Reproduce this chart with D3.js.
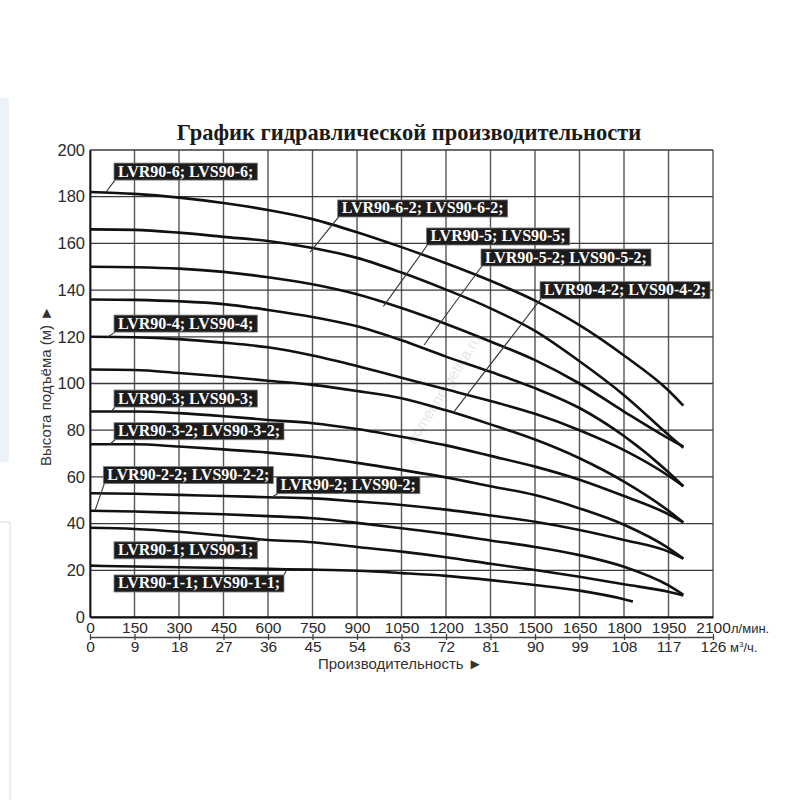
<!DOCTYPE html>
<html>
<head>
<meta charset="utf-8">
<script src="https://cdn.jsdelivr.net/npm/d3@7"></script>
<style>
  body { margin: 0; background: #fff; }
  svg { display: block; }
</style>
</head>
<body>
<div class="pump-chart"></div>
<script>
// Pump head curves

var flow = [0, 150, 300, 450, 600, 750, 900, 1050, 1200, 1350, 1500, 1650, 1800, 1950, 2000];
var flow_short = [0, 150, 300, 450, 600, 750, 900, 1050, 1200, 1350, 1500, 1650, 1800, 1830];

var head_6   = [182, 181.2, 179.6, 177.3, 174.3, 170.4, 164.8, 158.4, 151.5, 144, 135.5, 125, 112, 97, 90.5];
var head_6_2 = [166, 165.8, 164.6, 162.8, 161, 158, 153.8, 147.5, 140.2, 132.2, 122.5, 109.5, 95, 78, 72.5];
var head_5   = [150, 149.8, 149.2, 147.8, 145.5, 142.5, 138.2, 132.3, 125.5, 118, 110, 100, 88, 76.5, 73];
var head_5_2 = [136, 135.8, 135.2, 134, 131.5, 128.5, 124.5, 118.5, 111.5, 105, 98, 89.5, 77.5, 62, 56];
var head_4   = [120, 119.8, 119, 117.5, 115.5, 112, 107.5, 102.5, 97.5, 92.5, 87, 80, 71.5, 60.5, 56];
var head_4_2 = [106, 105.8, 104.5, 103, 101.2, 99.4, 96.8, 93.7, 88.5, 82.5, 76, 68, 58, 45.5, 40.5];
var head_3   = [88, 88, 87.3, 86, 84.4, 83, 80.5, 77.2, 73.5, 69, 64.4, 58.8, 51.8, 44, 40.5];
var head_3_2 = [74, 74, 73, 71.8, 70.4, 68.6, 66, 63, 59.8, 56, 52.2, 46.5, 39.5, 29.5, 25];
var head_2   = [53, 52.8, 52.3, 51.8, 51.3, 50.8, 49.5, 48, 46, 43.5, 40.8, 37.3, 33, 28, 25];
var head_2_2 = [45.5, 45.2, 44.6, 44, 43.2, 42.3, 40.3, 38, 35.6, 32.8, 30, 26.5, 21.5, 13.5, 9.5];
var head_1   = [38.2, 37.7, 36.5, 34.8, 33, 32, 30, 28, 25.6, 22.8, 20.1, 17.2, 14, 10.8, 9.2];
var head_1_1 = [22, 21.6, 21.3, 21, 20.6, 20.3, 19.8, 18.8, 17.6, 15.8, 13.7, 11.3, 7.6, 6.6];

var label_texts = [
  'LVR90-6; LVS90-6;',
  'LVR90-6-2; LVS90-6-2;',
  'LVR90-5; LVS90-5;',
  'LVR90-5-2; LVS90-5-2;',
  'LVR90-4-2; LVS90-4-2;',
  'LVR90-4; LVS90-4;',
  'LVR90-3; LVS90-3;',
  'LVR90-3-2; LVS90-3-2;',
  'LVR90-2-2; LVS90-2-2;',
  'LVR90-2; LVS90-2;',
  'LVR90-1; LVS90-1;',
  'LVR90-1-1; LVS90-1-1;'
];

var flow_ticks = d3.range(0, 2101, 150);     // л/мин.
var m3_ticks = d3.range(0, 127, 9);          // м³/ч.
var head_ticks = d3.range(0, 201, 20);

var title = 'График гидравлической производительности';
var y_title = 'Высота подъёма (м) ►';
var x_title = 'Производительность ►';

// label placement, in chart units: box corner, where the leader starts, where it points
var label_pos = [
  {box: [81, 194.4],   from: 'bl', to: [54, 182]},
  {box: [835, 178.6],  from: 'bl', to: [742, 156.3]},
  {box: [1134, 166.6], from: 'bl', to: [989, 133]},
  {box: [1318, 157.6], from: 'bl', to: [1126, 116.5]},
  {box: [1517, 143.6], from: 'bl', to: [1224, 87.4]},
  {box: [81, 129.3],   from: 'bl', to: [61, 120]},
  {box: [81, 97.2],    from: 'bl', to: [71, 88]},
  {box: [81, 83.2],    from: 'bl', to: [67, 74]},
  {box: [45, 64.4],    from: 'bl', to: [17, 45.6]},
  {box: [629, 60.1],   from: 'bl', to: [613, 51.3]},
  {box: [81, 32.2],    from: 'tr', to: [580, 33.5]},
  {box: [81, 18],      from: 'tr', to: [664, 20.3]}
];

var curves = [
  {flow: flow, head: head_6},
  {flow: flow, head: head_6_2},
  {flow: flow, head: head_5},
  {flow: flow, head: head_5_2},
  {flow: flow, head: head_4},
  {flow: flow, head: head_4_2},
  {flow: flow, head: head_3},
  {flow: flow, head: head_3_2},
  {flow: flow, head: head_2},
  {flow: flow, head: head_2_2},
  {flow: flow, head: head_1},
  {flow: flow_short, head: head_1_1}
];

var svg_width = 800;
var svg_height = 800;

var svg = d3.select('.pump-chart')
  .append('svg')
    .attr('width', svg_width)
    .attr('height', svg_height);

// page leftovers at the left edge
svg.append('rect')
  .attr('x', 0).attr('y', 98).attr('width', 9).attr('height', 364)
  .style('fill', '#edf2f8');
svg.append('path')
  .attr('d', 'M0,522H10V800')
  .style('fill', 'none').style('stroke', '#dcdcdc');

var x = d3.scaleLinear().domain([0, 2100]).range([90, 713]);
var x_m3 = d3.scaleLinear().domain([0, 126]).range([90, 713]);
var y = d3.scaleLinear().domain([0, 200]).range([617, 150]);

var sans = '"Liberation Sans", Arial, sans-serif';
var serif = '"Liberation Serif", "Times New Roman", serif';

// watermark
svg.append('text')
  .attr('transform', 'translate(448,392) rotate(-58)')
  .attr('text-anchor', 'middle')
  .style('font-family', sans)
  .style('font-size', '15px')
  .style('fill', '#e6e6e6')
  .text('homeenergetika.ru');

// grid
svg.append('g').selectAll('line')
  .data(flow_ticks)
  .enter()
    .append('line')
    .attr('x1', function(d) { return x(d); })
    .attr('x2', function(d) { return x(d); })
    .attr('y1', y(0))
    .attr('y2', y(200))
    .style('stroke', '#555')
    .style('stroke-width', 1.4);

svg.append('g').selectAll('line')
  .data(head_ticks)
  .enter()
    .append('line')
    .attr('x1', x(0))
    .attr('x2', x(2100))
    .attr('y1', function(d) { return y(d); })
    .attr('y2', function(d) { return y(d); })
    .style('stroke', '#3a3a3a')
    .style('stroke-width', 1.3);

// axes
var fmt = d3.format('d');

var y_axis = svg.append('g')
  .attr('transform', 'translate(' + x(0) + ',0)')
  .call(d3.axisLeft(y).tickValues(head_ticks).tickFormat(fmt).tickSize(0).tickPadding(5));
y_axis.select('.domain').style('stroke', '#111').style('stroke-width', 1.8);
y_axis.selectAll('text')
  .style('font-family', sans).style('font-size', '16.5px').style('fill', '#2a2a2a');

var x_axis = svg.append('g')
  .attr('transform', 'translate(0,' + y(0) + ')')
  .call(d3.axisBottom(x).tickValues(flow_ticks).tickFormat(fmt).tickSize(0).tickPadding(5));
x_axis.select('.domain').style('stroke', '#111').style('stroke-width', 1.8);
x_axis.selectAll('text')
  .style('font-family', sans).style('font-size', '15.5px').style('fill', '#2a2a2a');

var m3_axis = svg.append('g')
  .attr('transform', 'translate(0,637)')
  .call(d3.axisBottom(x_m3).tickValues(m3_ticks).tickFormat(fmt).tickSizeInner(3).tickSizeOuter(0).tickPadding(1));
m3_axis.select('.domain').style('stroke', '#444').style('stroke-width', 1.3);
m3_axis.selectAll('.tick line').attr('y1', -3).style('stroke', '#444').style('stroke-width', 1.3);
m3_axis.selectAll('text')
  .style('font-family', sans).style('font-size', '15.5px').style('fill', '#2a2a2a');

svg.append('text')
  .attr('x', x(2100) + 18).attr('y', 633)
  .style('font-family', sans).style('font-size', '13px').style('fill', '#2a2a2a')
  .text('л/мин.');

var unit = svg.append('text')
  .attr('x', x_m3(126) + 17).attr('y', 652)
  .style('font-family', sans).style('font-size', '13px').style('fill', '#2a2a2a');
unit.append('tspan').text('м');
unit.append('tspan').attr('dy', -5).style('font-size', '8px').text('3');
unit.append('tspan').attr('dy', 5).text('/ч.');

// titles
svg.append('text')
  .attr('x', 409).attr('y', 140)
  .attr('text-anchor', 'middle')
  .style('font-family', serif).style('font-weight', 'bold')
  .style('font-size', '22.5px').style('fill', '#1a1a1a')
  .text(title);

svg.append('text')
  .attr('transform', 'translate(51,386) rotate(-90)')
  .attr('text-anchor', 'middle')
  .style('font-family', sans).style('font-size', '15px').style('fill', '#333')
  .text(y_title);

svg.append('text')
  .attr('x', 318).attr('y', 669)
  .style('font-family', sans).style('font-size', '15px').style('fill', '#333')
  .text(x_title);

// curves
var line = d3.line()
  .x(function(d) { return x(d[0]); })
  .y(function(d) { return y(d[1]); })
  .curve(d3.curveMonotoneX);

svg.append('g').selectAll('path')
  .data(curves)
  .enter()
    .append('path')
    .attr('d', function(d) { return line(d3.zip(d.flow, d.head)); })
    .style('fill', 'none')
    .style('stroke', '#111')
    .style('stroke-width', 2.6)
    .style('stroke-linecap', 'butt');

// labels
var box_h = 17;
var labels = svg.append('g');

label_texts.forEach(function(t, i) {
  var p = label_pos[i];
  var bx = x(p.box[0]);
  var by = y(p.box[1]);
  var g = labels.append('g');
  var rect = g.append('rect');
  var txt = g.append('text')
    .attr('x', bx + 4)
    .attr('y', by + 13.5)
    .style('font-family', serif).style('font-weight', 'bold')
    .style('font-size', '16px').style('fill', '#fff')
    .text(t);
  var w = txt.node().getComputedTextLength() + 8;
  rect.attr('x', bx).attr('y', by).attr('width', w).attr('height', box_h)
    .style('fill', '#1c1c1c').style('stroke', '#777').style('stroke-width', 0.8);
  var sx = p.from === 'tr' ? bx + w : bx + 1;
  var sy = p.from === 'tr' ? by : by + box_h;
  labels.insert('line', ':first-child')
    .attr('x1', sx).attr('y1', sy)
    .attr('x2', x(p.to[0])).attr('y2', y(p.to[1]))
    .style('stroke', '#333').style('stroke-width', 1.1);
});
</script>
</body>
</html>
